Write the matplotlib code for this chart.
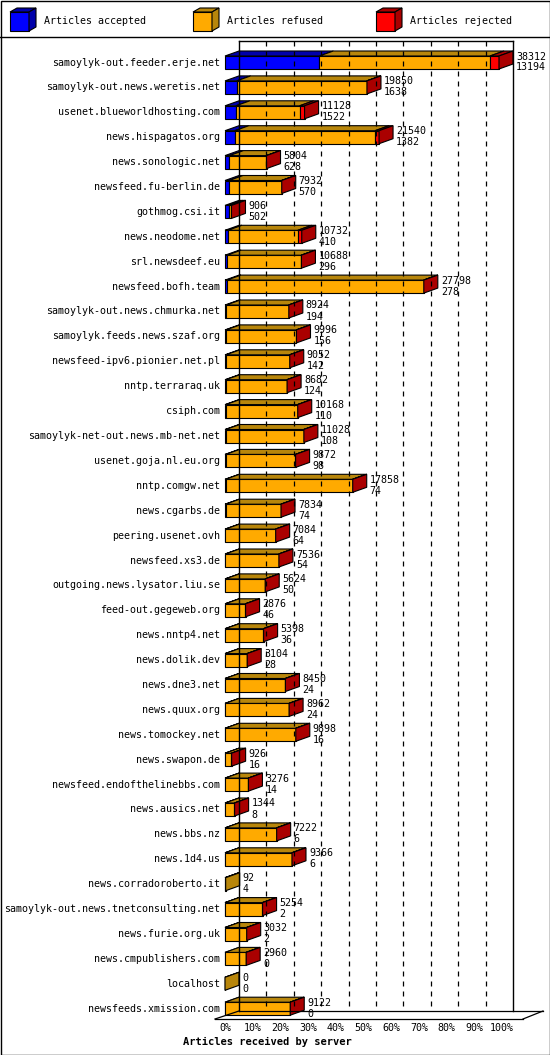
import matplotlib
matplotlib.use("Agg")
import matplotlib.pyplot as plt
from matplotlib.patches import Polygon, Rectangle

servers = ["samoylyk-out.feeder.erje.net","samoylyk-out.news.weretis.net","usenet.blueworldhosting.com",
"news.hispagatos.org","news.sonologic.net","newsfeed.fu-berlin.de","gothmog.csi.it","news.neodome.net",
"srl.newsdeef.eu","newsfeed.bofh.team","samoylyk-out.news.chmurka.net","samoylyk.feeds.news.szaf.org",
"newsfeed-ipv6.pionier.net.pl","nntp.terraraq.uk","csiph.com","samoylyk-net-out.news.mb-net.net",
"usenet.goja.nl.eu.org","nntp.comgw.net","news.cgarbs.de","peering.usenet.ovh","newsfeed.xs3.de",
"outgoing.news.lysator.liu.se","feed-out.gegeweb.org","news.nntp4.net","news.dolik.dev","news.dne3.net",
"news.quux.org","news.tomockey.net","news.swapon.de","newsfeed.endofthelinebbs.com","news.ausics.net",
"news.bbs.nz","news.1d4.us","news.corradoroberto.it","samoylyk-out.news.tnetconsulting.net",
"news.furie.org.uk","news.cmpublishers.com","localhost","newsfeeds.xmission.com"]
offered = [38312,19850,11128,21540,5804,7932,906,10732,10688,27798,8924,9996,9052,8682,10168,11028,9872,
17858,7834,7084,7536,5624,2876,5398,3104,8450,8962,9898,926,3276,1344,7222,9366,92,5254,3032,2960,0,9122]
accepted = [13194,1638,1522,1382,628,570,502,410,296,278,194,156,142,124,110,108,98,74,74,64,54,50,46,36,
28,24,24,16,16,14,8,6,6,4,2,2,0,0,0]
rejected = [1260,30,700,560,20,20,40,560,20,20,20,20,20,20,20,20,20,20,20,20,20,20,20,20,20,20,20,20,20,
20,20,20,20,0,20,20,20,0,20]
legend_labels = ["Articles accepted", "Articles refused", "Articles rejected"]
xticks = [0,10,20,30,40,50,60,70,80,90,100]

front = ["#0000ff", "#ffaa00", "#ff0000"]
dark = ["#0000aa", "#b8860b", "#aa0000"]

W, H = 550, 1055
fig = plt.figure(figsize=(W/100, H/100), dpi=100)
ax = fig.add_axes([0, 0, 1, 1])
ax.set_xlim(0, W); ax.set_ylim(H, 0); ax.axis("off")
mono = "DejaVu Sans Mono"
fs = 7.2

X0, SC = 225, 2.74   # front origin, px per percent
DX, DY = 14, 5
y0, step, bh = 62.5, 24.9, 13
mx = max(offered)

def px(p): return X0 + p * SC

# outer border and legend box
ax.add_patch(Rectangle((0.5, 0.5), W-1, H-1, fill=False, lw=1, ec="black"))
ax.plot([0, W], [36.5, 36.5], color="black", lw=1)
for i, (lab, lx) in enumerate(zip(legend_labels, [10, 193, 376])):
    x, y, s = lx, 12, 19
    ax.add_patch(Polygon([(x, y), (x+s, y), (x+s, y+s), (x, y+s)], fc=front[i], ec="black", lw=0.8))
    ax.add_patch(Polygon([(x, y), (x+7, y-4), (x+s+7, y-4), (x+s, y)], fc=dark[i], ec="black", lw=0.8))
    ax.add_patch(Polygon([(x+s, y), (x+s+7, y-4), (x+s+7, y+s-4), (x+s, y+s)], fc=dark[i], ec="black", lw=0.8))
    ax.text(x+34, y+s/2, lab, fontsize=fs, family=mono, va="center", ha="left")

# back plane / grid
top, floor_f = 41, 1019
floor_b = floor_f - DY - 3
ax.plot([X0+DX, X0+DX], [top, floor_b], color="black", lw=1)
ax.plot([px(100)+DX, px(100)+DX], [top, floor_b], color="black", lw=1)
ax.plot([X0+DX, px(100)+DX], [top, top], color="black", lw=1)
for t in xticks[1:-1]:
    ax.plot([px(t)+DX]*2, [top, floor_b], color="black", lw=0.9, ls=(0, (4, 4)))
ax.plot([X0-10, X0+DX], [floor_f, floor_b], color="black", lw=0.9)
ax.plot([px(0)+DX, px(100)+DX+30], [floor_b, floor_b], color="black", lw=0.9)
ax.plot([X0-10, px(100)+DX+30-20], [floor_f, floor_f], color="black", lw=0.9)
ax.plot([px(100)+DX+30-20, px(100)+DX+30], [floor_f, floor_b], color="black", lw=0.9)
for t in xticks:
    xx = X0 + t * 2.77
    ax.text(xx, 1028, f"{t}%", fontsize=fs, family=mono, ha="center", va="center")
ax.text(267, 1042, "Articles received by server", fontsize=fs+0.3, family=mono,
        fontweight="bold", ha="center", va="center")

for i, name in enumerate(servers):
    yc = y0 + i * step
    yt, yb = yc - bh/2, yc + bh/2
    ax.text(220, yc, name, fontsize=fs, family=mono, ha="right", va="center")
    segs = [accepted[i], offered[i] - accepted[i] - rejected[i], rejected[i]]
    left = 0.0
    last = 1
    for k, v in enumerate(segs):
        w = 100 * max(v, 0) / mx
        if v > 0:
            last = k
        a, b = px(left), px(left + w)
        ax.add_patch(Polygon([(a, yt), (b, yt), (b, yb), (a, yb)], fc=front[k], ec="black", lw=0.8))
        ax.add_patch(Polygon([(a, yt), (a+DX, yt-DY), (b+DX, yt-DY), (b, yt)], fc=dark[k], ec="black", lw=0.8))
        left += w
    e = px(left)
    ax.add_patch(Polygon([(e, yt), (e+DX, yt-DY), (e+DX, yb-DY), (e, yb)], fc=dark[last], ec="black", lw=0.8))
    ax.text(e+DX+3, yc-6, str(offered[i]), fontsize=fs, family=mono, ha="left", va="center")
    ax.text(e+DX+3, yc+5, str(accepted[i]), fontsize=fs, family=mono, ha="left", va="center")

fig.savefig("out.png", dpi=100)
